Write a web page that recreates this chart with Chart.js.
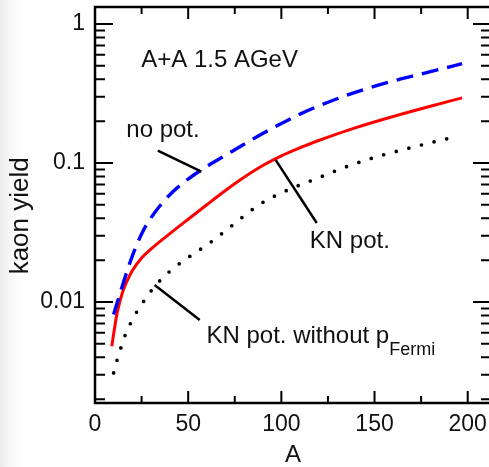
<!DOCTYPE html>
<html>
<head>
<meta charset="utf-8">
<style>
  html, body { margin: 0; padding: 0; overflow: hidden; background: #fff; }
  body { background: linear-gradient(to right, #ececec 0px, #f7f7f7 10px, #ffffff 22px); }
  #wrap { position: relative; width: 493px; height: 467px; }
</style>
<script src="https://cdn.jsdelivr.net/npm/chart.js@4/dist/chart.umd.min.js"></script>
</head>
<body>
<div id="wrap"><canvas id="c" width="493" height="467"></canvas></div>
<script>
// Mass number A of the colliding system
const massNoPot = [10, 12, 15, 20, 25, 30, 40, 50, 60, 70, 80, 90, 100, 110, 125, 140, 160, 180, 197];
// Kaon yield without kaon-nucleon potential
const yieldNoPot = [0.00813, 0.0100, 0.0135, 0.0214, 0.0309, 0.0403, 0.0589, 0.0767, 0.0944, 0.1135,
                    0.1365, 0.163, 0.1923, 0.2249, 0.2735, 0.3236, 0.389, 0.4539, 0.5188];

const massKN = [9, 10, 12, 15, 17.5, 20, 25, 30, 40, 50, 60, 70, 80, 90, 100, 110, 120, 130, 140, 160, 180, 197];
// Kaon yield with KN potential
const yieldKN = [0.0048, 0.0059, 0.0085, 0.0120, 0.01445, 0.0168, 0.0207, 0.0240, 0.0309, 0.0394, 0.0501,
                 0.0634, 0.0789, 0.0959, 0.1127, 0.1288, 0.1452, 0.1622, 0.1799, 0.2163, 0.2564, 0.2944];

const massKNnoFermi = [10, 12, 14, 16, 19, 22, 26, 30, 35, 40, 45, 50, 56, 62, 68, 74, 80, 86, 92, 98,
                       105, 115, 125, 135, 145, 155, 170, 182, 195];
// Kaon yield with KN potential, Fermi momentum switched off
const yieldKNnoFermi = [0.00309, 0.00389, 0.00473, 0.00569, 0.0070, 0.00832, 0.01005, 0.01197, 0.01432,
                        0.01656, 0.01875, 0.0209, 0.02366, 0.0269, 0.031, 0.0359, 0.0417, 0.0479, 0.054,
                        0.0592, 0.0653, 0.0738, 0.0834, 0.0942, 0.1045, 0.1148, 0.1294, 0.1422, 0.1563];

// Axis ticks
const xTickLabels = [0, 50, 100, 150, 200];
const xMinorTicks = [25, 75, 125, 175];
const yTickLabels = [0.01, 0.1, 1];

const toPoints = (xs, ys) => xs.map((a, i) => ({ x: a, y: ys[i] }));

const FONT = '"Liberation Sans", Arial, Helvetica, sans-serif';
const INK = '#111';

// Text labels and leader lines, placed in data coordinates
const notes = [
  { text: 'A+A 1.5 AGeV', a: 24.8, v: 0.493 },
  { text: 'no pot.', a: 16.8, v: 0.1545 },
  { text: 'KN pot.', a: 115.3, v: 0.0243 },
  { text: 'KN pot. without p', sub: 'Fermi', a: 59.8, v: 0.00505 }
];
const leaders = [
  [[33.7, 0.1226], [57.1, 0.0866]],
  [[97.0, 0.105], [119.0, 0.037]],
  [[32.0, 0.01325], [56.2, 0.00743]]
];

const frameAndNotes = {
  id: 'frameAndNotes',
  afterDraw(chart) {
    const { ctx, chartArea: ca, scales: { x, y } } = chart;
    ctx.save();
    ctx.strokeStyle = '#000';
    ctx.lineCap = 'butt';

    // inward tick marks on all four sides
    ctx.lineWidth = 2;
    ctx.beginPath();
    const xTick = (v, len) => {
      const px = x.getPixelForValue(v);
      ctx.moveTo(px, ca.bottom); ctx.lineTo(px, ca.bottom - len);
      ctx.moveTo(px, ca.top); ctx.lineTo(px, ca.top + len);
    };
    xTickLabels.forEach(v => xTick(v, 12));
    xMinorTicks.forEach(v => xTick(v, 7));
    const yTick = (v, len) => {
      const py = y.getPixelForValue(v);
      ctx.moveTo(ca.left, py); ctx.lineTo(ca.left + len, py);
      ctx.moveTo(ca.right, py); ctx.lineTo(ca.right - len, py);
    };
    for (let e = -3; e <= 0; e++) {
      for (let m = 1; m <= 9; m++) {
        const v = m * Math.pow(10, e);
        if (v < y.min || v > y.max) continue;
        yTick(v, m === 1 ? 18 : 10);
      }
    }
    ctx.stroke();

    // frame
    ctx.lineWidth = 2.5;
    ctx.strokeRect(ca.left, ca.top, ca.right - ca.left, ca.bottom - ca.top);

    // leader lines
    ctx.lineWidth = 2.5;
    ctx.beginPath();
    leaders.forEach(([p, q]) => {
      ctx.moveTo(x.getPixelForValue(p[0]), y.getPixelForValue(p[1]));
      ctx.lineTo(x.getPixelForValue(q[0]), y.getPixelForValue(q[1]));
    });
    ctx.stroke();

    // labels
    ctx.fillStyle = INK;
    ctx.textBaseline = 'alphabetic';
    ctx.textAlign = 'left';
    notes.forEach(n => {
      const px = x.getPixelForValue(n.a);
      const py = y.getPixelForValue(n.v);
      ctx.font = '24px ' + FONT;
      ctx.fillText(n.text, px, py);
      if (n.sub) {
        const w = ctx.measureText(n.text).width;
        ctx.font = '18px ' + FONT;
        ctx.fillText(n.sub, px + w, py + 11.5);
      }
    });
    ctx.restore();
  }
};

const noEdgePadding = s => {
  s.paddingTop = 0; s.paddingBottom = 0; s.paddingLeft = 0; s.paddingRight = 0;
};

new Chart(document.getElementById('c'), {
  type: 'line',
  data: {
    datasets: [
      {
        label: 'no pot.',
        data: toPoints(massNoPot, yieldNoPot),
        borderColor: '#0000ff',
        borderWidth: 3.4,
        borderDash: [17, 9],
        cubicInterpolationMode: 'monotone',
        pointRadius: 0
      },
      {
        label: 'KN pot.',
        data: toPoints(massKN, yieldKN),
        borderColor: '#ff0000',
        borderWidth: 3,
        cubicInterpolationMode: 'monotone',
        pointRadius: 0
      },
      {
        label: 'KN pot. without pFermi',
        data: toPoints(massKNnoFermi, yieldKNnoFermi),
        borderColor: '#000',
        borderWidth: 3.7,
        borderDash: [0, 13],
        borderCapStyle: 'round',
        cubicInterpolationMode: 'monotone',
        pointRadius: 0
      }
    ]
  },
  options: {
    responsive: false,
    devicePixelRatio: 1,
    animation: false,
    layout: { padding: { left: 0, top: 7, right: 2, bottom: 0 } },
    plugins: { legend: { display: false }, tooltip: { enabled: false } },
    scales: {
      x: {
        type: 'linear',
        position: 'bottom',
        min: 0,
        max: 212.5,
        afterBuildTicks: s => { s.ticks = xTickLabels.map(v => ({ value: v })); },
        afterFit: s => { s.height = 64; noEdgePadding(s); },
        grid: { display: false, drawTicks: false },
        border: { display: false },
        ticks: {
          color: INK,
          font: { family: FONT, size: 23 },
          padding: 8,
          maxRotation: 0,
          autoSkip: false,
          callback: v => String(v)
        },
        title: {
          display: true,
          text: 'A',
          color: INK,
          font: { family: FONT, size: 24, lineHeight: 1 },
          padding: { top: 0, bottom: 0 }
        }
      },
      y: {
        type: 'logarithmic',
        position: 'left',
        min: 0.001877,
        max: 1.326,
        afterBuildTicks: s => { s.ticks = yTickLabels.map(v => ({ value: v })); },
        afterFit: s => { s.width = 95; noEdgePadding(s); },
        grid: { display: false, drawTicks: false },
        border: { display: false },
        ticks: {
          color: INK,
          font: { family: FONT, size: 23 },
          padding: 10,
          autoSkip: false,
          callback: v => String(v)
        },
        title: {
          display: true,
          // trailing spaces nudge the rotated title a little below the axis centre
          text: 'kaon yield   ',
          color: INK,
          font: { family: FONT, size: 26, lineHeight: 1 },
          padding: { top: 8, bottom: 0 }
        }
      }
    }
  },
  plugins: [frameAndNotes]
});
</script>
</body>
</html>
